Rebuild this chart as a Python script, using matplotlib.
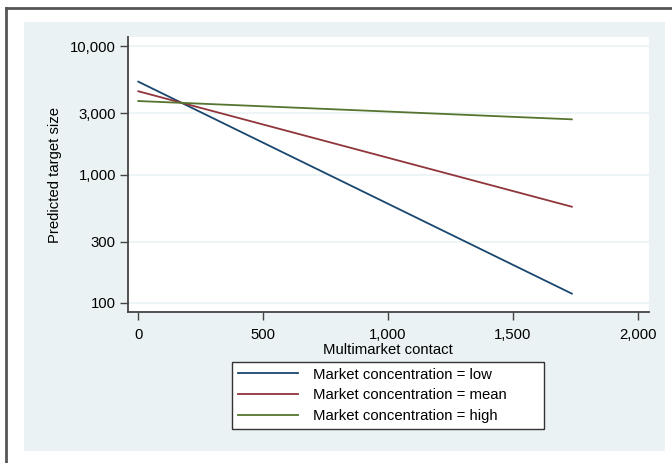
import matplotlib
matplotlib.use("Agg")
import matplotlib.pyplot as plt
from matplotlib.patches import Rectangle
from matplotlib.lines import Line2D
from matplotlib.ticker import FixedLocator, NullLocator

plt.rcParams['font.family'] = ['Liberation Sans', 'DejaVu Sans']

# Data
mmc = [0, 1736]
series_labels = ["Market concentration = low",
                 "Market concentration = mean",
                 "Market concentration = high"]
pred_low = [5310, 118]
pred_mean = [4470, 562]
pred_high = [3750, 2700]
series_values = [pred_low, pred_mean, pred_high]
colors = ["#1a476f", "#90353b", "#55752f"]

y_ticks = [100, 300, 1000, 3000, 10000]
y_tick_labels = ["100", "300", "1,000", "3,000", "10,000"]
x_ticks = [0, 500, 1000, 1500, 2000]
x_tick_labels = ["0", "500", "1,000", "1,500", "2,000"]

W, H = 672, 463
fig = plt.figure(figsize=(W / 100, H / 100), dpi=100)
fig.patch.set_facecolor("white")

bg = "#eaf2f3"
# graph region background
fig.patches.append(Rectangle((24 / W, 1 - 450.7 / H), (664.5 - 24) / W, (450.7 - 22.3) / H,
                             transform=fig.transFigure, facecolor=bg, edgecolor="none", zorder=-5))
# outer border (left and top)
fig.lines.append(Line2D([5.5 / W, 5.5 / W], [0, 1 - 7.5 / H], transform=fig.transFigure,
                        color="#555555", lw=2.0, zorder=-5))
fig.lines.append(Line2D([5.5 / W, 1], [1 - 7.5 / H, 1 - 7.5 / H], transform=fig.transFigure,
                        color="#555555", lw=2.0, zorder=-5))

l, r, t, b = 127.7, 648.5, 37.3, 312.3
ax = fig.add_axes([l / W, 1 - b / H, (r - l) / W, (b - t) / H])
ax.set_zorder(2)
ax.set_facecolor("white")

for vals, lab, c in zip(series_values, series_labels, colors):
    ax.plot(mmc, vals, color=c, lw=1.3, label=lab, zorder=3)

ax.set_yscale("log")
ax.set_ylim(84.4, 11780)
ax.set_xlim(-42.5, 2043)

ax.yaxis.set_major_locator(FixedLocator(y_ticks))
ax.yaxis.set_minor_locator(NullLocator())
ax.set_yticklabels(y_tick_labels)
ax.set_xticks(x_ticks)
ax.set_xticklabels(x_tick_labels)

for yv in y_ticks:
    ax.axhline(yv, color=bg, lw=1.2, zorder=1)

for s in ["top", "right"]:
    ax.spines[s].set_visible(False)
for s in ["left", "bottom"]:
    ax.spines[s].set_color("#444444")
    ax.spines[s].set_linewidth(1.3)

ax.tick_params(axis="both", which="major", labelsize=10.7, color="#444444", width=1.0,
               length=6, direction="out")
ax.tick_params(axis="y", pad=2.5)
ax.tick_params(axis="x", pad=5)

ax.set_xlabel("Multimarket contact", fontsize=10.7, labelpad=1)
ax.set_ylabel("Predicted target size", fontsize=10.7, labelpad=5.7)

leg = ax.legend(loc="upper left",
                bbox_to_anchor=(232.3 / W, 1 - 430 / H, (544 - 232.3) / W, (430 - 361.7) / H),
                bbox_transform=fig.transFigure, mode="expand",
                fontsize=10.7, frameon=True, fancybox=False, framealpha=1,
                edgecolor="#333333", handlelength=4.05, handletextpad=1.0,
                borderpad=0.4, labelspacing=0.44, borderaxespad=0)
leg.get_frame().set_linewidth(1.0)
leg.get_frame().set_facecolor("white")

fig.savefig("out.png", dpi=100, facecolor="white")
